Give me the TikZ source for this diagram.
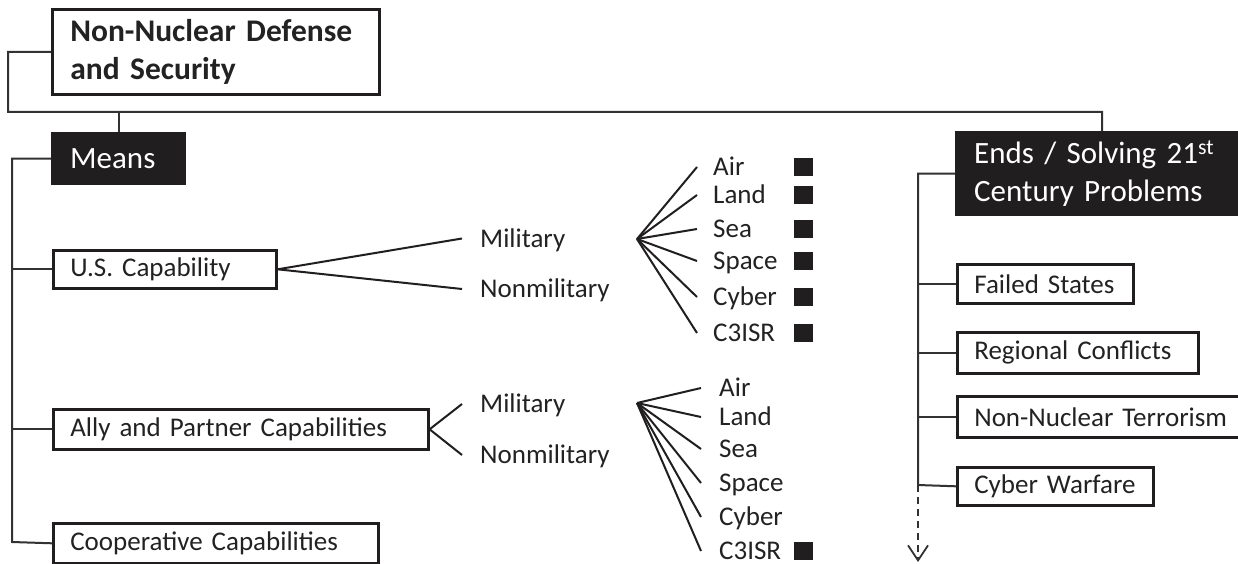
\documentclass[tikz,border=0pt]{standalone}
\usepackage{fontspec}
\setmainfont{Carlito}
\usetikzlibrary{arrows.meta}
\definecolor{ink}{RGB}{34,34,34}
\definecolor{boxfill}{RGB}{33,30,31}
\definecolor{wire}{RGB}{50,50,50}
\tikzset{
  wbox/.style={draw=boxfill, line width=2.6pt, fill=white, text=ink,
    inner xsep=17pt, inner ysep=0pt, align=left, anchor=north west,
    font=\fontsize{27}{32}\selectfont},
  bbox/.style={fill=boxfill, text=white, inner xsep=19pt, inner ysep=0pt,
    align=left, anchor=north west, font=\fontsize{31}{38}\selectfont},
  conn/.style={draw=wire, line width=2pt},
  fan/.style={draw=boxfill, line width=2pt},
  lbl/.style={inner xsep=17pt, inner ysep=0pt, anchor=west, text=ink,
    text height=17.4pt, text depth=0pt, font=\fontsize{27}{32}\selectfont},
  sqmark/.style={fill=boxfill, minimum width=19pt, minimum height=18pt,
    inner sep=0pt},
}
\begin{document}
\begin{tikzpicture}[x=1pt,y=-1pt]
\clip (0,0) rectangle (1238,564);
\fill[white] (0,0) rectangle (1238,564);

% top of the tree
\node[wbox, text width=291pt, minimum height=85pt, inner xsep=18pt,
  font=\fontsize{31.5}{38.4}\selectfont\bfseries]
  (title) at (51,8) {Non-Nuclear Defense\\and Security};
\node[bbox, text width=97pt, minimum height=53pt] (means) at (51,132) {Means};
\node[bbox, text width=256pt, minimum height=85pt] (ends) at (955,131)
  {Ends / Solving 21\textsuperscript{st}\\Century Problems};

\coordinate (busL) at (8,112);
\coordinate (busR) at (1102,112);
\draw[conn] (title.west) -| (busL) -- (busR) -- (ends.north);
\draw[conn] (means.north) -- (means.north |- busL);

% means side
\node[wbox, text width=189pt, minimum height=38pt] (us) at (52,249) {U.S. Capability};
\node[wbox, text width=341pt, minimum height=40pt] (ally) at (52,408) {Ally and Partner Capabilities};
\node[wbox, text width=291pt, minimum height=40pt] (coop) at (52,522) {Cooperative Capabilities};

\coordinate (lbot) at (12,542);
\draw[conn] (means.west) -| (lbot) -- (coop.west);
\draw[conn] (us.west) -- (us.west -| lbot);
\draw[conn] (ally.west) -- (ally.west -| lbot);

\node[lbl, inner xsep=18pt] (mil1) at (462,238.5) {Military};
\node[lbl, inner xsep=18pt] (nonmil1) at (462,289) {Nonmilitary};
\node[lbl, inner xsep=18pt] (mil2) at (462,404) {Military};
\node[lbl, inner xsep=18pt] (nonmil2) at (462,455) {Nonmilitary};
\draw[fan] (us.east) -- (mil1.west);
\draw[fan] (us.east) -- (nonmil1.west);
\draw[fan] (ally.east) -- (mil2.west);
\draw[fan] (ally.east) -- (nonmil2.west);

% domains, upper group
\coordinate (hubA) at (637,239);
\foreach \name/\txt/\y in {a1/Air/167, a2/Land/195, a3/Sea/229, a4/Space/261, a5/Cyber/297, a6/C3ISR/333}{
  \node[lbl, inner xsep=16pt] (\name) at (697,\y) {\txt};
  \draw[fan] (hubA) -- (\name.west);
  \node[sqmark] (\name m) at (803.5,\y) {};
}

% domains, lower group
\coordinate (hubB) at (637,403);
\foreach \name/\txt/\y in {b1/Air/388, b2/Land/417, b3/Sea/449, b4/Space/483, b5/Cyber/517, b6/C3ISR/551}{
  \node[lbl, inner xsep=18pt] (\name) at (701,\y) {\txt};
  \draw[fan] (hubB) -- (\name.west);
}
\node[sqmark] (b6m) at (803.5,551) {};

% ends side
\node[wbox, text width=142pt, minimum height=39pt] (failed) at (956,263) {Failed States};
\node[wbox, text width=207pt, minimum height=41pt] (regional) at (956,331) {Regional Conflicts};
\node[wbox, text width=266pt, minimum height=41pt] (terror) at (956,395) {Non-Nuclear Terrorism};
\node[wbox, text width=162pt, minimum height=38pt] (cyberw) at (956,466) {Cyber Warfare};

\coordinate (rbot) at (918,485);
\coordinate (rend) at (918,562);
\draw[conn] (ends.west) -| (rbot) -- (cyberw.west);
\draw[conn] (failed.west) -- (failed.west -| rbot);
\draw[conn] (regional.west) -- (regional.west -| rbot);
\draw[conn] (terror.west) -- (terror.west -| rbot);
\draw[conn, line width=1.8pt, dash pattern=on 7pt off 5pt,
  -{Straight Barb[length=15pt, width=20pt, line width=1.8pt]}] (rbot) -- (rend);
\end{tikzpicture}
\end{document}
